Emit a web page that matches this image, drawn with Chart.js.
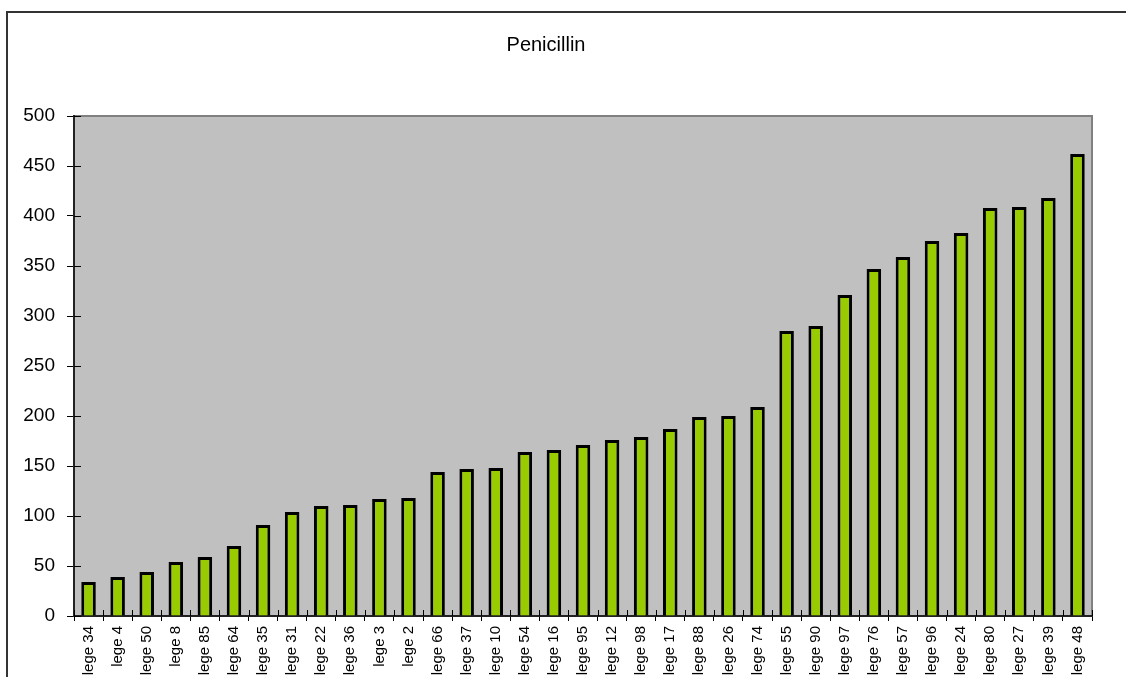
<!DOCTYPE html>
<html>
<head>
<meta charset="utf-8">
<title>Penicillin</title>
<script src="https://cdn.jsdelivr.net/npm/chart.js@4/dist/chart.umd.min.js"></script>
<style>
  html, body { margin: 0; padding: 0; background: #fff; }
  #chart { display: block; }
</style>
</head>
<body>
<canvas id="chart" width="1126" height="677"></canvas>
<script>
"use strict"

// data
let categories = ["lege 34", "lege 4", "lege 50", "lege 8", "lege 85", "lege 64", "lege 35", "lege 31", "lege 22", "lege 36",
                  "lege 3", "lege 2", "lege 66", "lege 37", "lege 10", "lege 54", "lege 16", "lege 95", "lege 12", "lege 98",
                  "lege 17", "lege 88", "lege 26", "lege 74", "lege 55", "lege 90", "lege 97", "lege 76", "lege 57", "lege 96",
                  "lege 24", "lege 80", "lege 27", "lege 39", "lege 48"]
let penicillin = [34, 39, 44, 54, 59, 70, 91, 104, 110, 111,
                  117, 118, 144, 147, 148, 164, 166, 171, 176, 179,
                  187, 199, 200, 209, 285, 290, 321, 347, 359, 375,
                  383, 408, 409, 418, 462]
let yTicks = [0, 50, 100, 150, 200, 250, 300, 350, 400, 450, 500]

let font = "'Liberation Sans', Arial, sans-serif"

// plot background, frame and Excel-style cross tick marks
let frame = {
    id: "frame",
    beforeDraw(chart) {
        let ctx = chart.ctx
        let a = chart.chartArea
        ctx.save()
        ctx.fillStyle = "#fff"
        ctx.fillRect(0, 0, chart.width, chart.height)
        ctx.strokeStyle = "#333"
        ctx.lineWidth = 2
        ctx.strokeRect(7, 12, 1300, 800)
        ctx.fillStyle = "#c0c0c0"
        ctx.fillRect(a.left, a.top, a.right - a.left, a.bottom - a.top)
        ctx.strokeStyle = "#808080"
        ctx.lineWidth = 2
        ctx.beginPath()
        ctx.moveTo(a.left, a.top)
        ctx.lineTo(a.right, a.top)
        ctx.lineTo(a.right, a.bottom)
        ctx.stroke()
        ctx.restore()
    },
    afterDraw(chart) {
        let ctx = chart.ctx
        let a = chart.chartArea
        let x = chart.scales.x
        let y = chart.scales.y
        ctx.save()
        ctx.strokeStyle = "#000"
        ctx.lineWidth = 1
        ctx.beginPath()
        y.ticks.forEach((t, i) => {
            let py = Math.round(y.getPixelForTick(i)) + 0.5
            ctx.moveTo(a.left, py)
            ctx.lineTo(a.left + 7, py)
        })
        let half = (x.getPixelForTick(1) - x.getPixelForTick(0)) / 2
        for (let i = 0; i <= categories.length; i++) {
            let px = Math.round(x.getPixelForTick(0) - half + i * half * 2) + 0.5
            ctx.moveTo(px, a.bottom)
            ctx.lineTo(px, a.bottom - 6)
        }
        ctx.stroke()
        ctx.restore()
    }
}

let chart = new Chart(document.querySelector("#chart"), {
    type: "bar",
    data: {
        labels: categories,
        datasets: [{
            label: "Penicillin",
            data: penicillin,
            backgroundColor: "#99cc00",
            borderColor: "#000",
            borderWidth: 3,
            barPercentage: 0.5,
            categoryPercentage: 1
        }]
    },
    options: {
        responsive: false,
        animation: false,
        devicePixelRatio: 1,
        layout: { padding: { left: 0, right: 34, top: 0, bottom: 0 } },
        plugins: {
            legend: { display: false },
            tooltip: { enabled: false },
            title: {
                display: true,
                text: "Penicillin",
                color: "#000",
                font: { family: font, size: 20, weight: "normal", lineHeight: 1.2 },
                padding: { top: 33, bottom: 59 }
            }
        },
        scales: {
            x: {
                grid: { offset: true, drawOnChartArea: false, drawTicks: true, tickLength: 5, color: "#000" },
                border: { display: true, color: "#222", width: 2 },
                ticks: {
                    autoSkip: false,
                    minRotation: 90,
                    maxRotation: 90,
                    padding: 5,
                    color: "#000",
                    font: { family: font, size: 15 }
                },
                afterFit(scale) { scale.height = 61 }
            },
            y: {
                min: 0,
                max: 500,
                afterBuildTicks(scale) { scale.ticks = yTicks.map(v => ({ value: v })) },
                grid: { drawOnChartArea: false, drawTicks: true, tickLength: 7, color: "#000" },
                border: { display: true, color: "#222", width: 2 },
                ticks: {
                    padding: 12,
                    color: "#000",
                    font: { family: font, size: 19 }
                },
                afterFit(scale) { scale.width = 74 }
            }
        }
    },
    plugins: [frame]
})
</script>
</body>
</html>
